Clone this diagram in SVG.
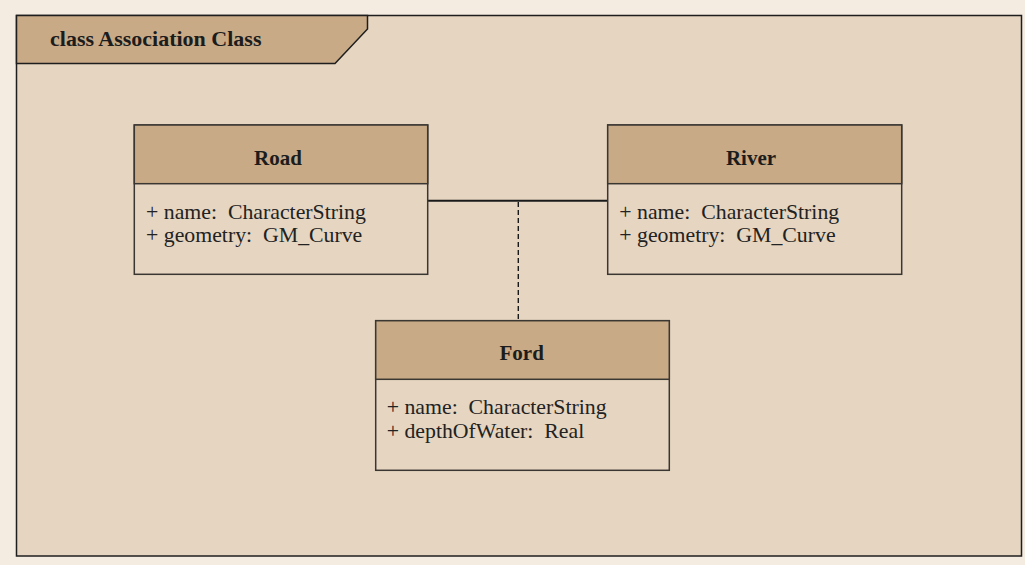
<svg xmlns="http://www.w3.org/2000/svg" width="1025" height="565" viewBox="0 0 1025 565">
  <style>
    .frame { fill: #e5d5c1; stroke: #1e1e1e; stroke-width: 1.5; }
    .tab { fill: #c8aa87; stroke: #1e1e1e; stroke-width: 1.5; }
    .box { fill: #e5d5c1; stroke: #3a3632; stroke-width: 1.5; }
    .head { fill: #c8aa87; stroke: #3a3632; stroke-width: 1.5; }
    .title { font-family: "Liberation Serif", "Times New Roman", serif; font-weight: bold; font-size: 22px; fill: #1c1c1c; }
    .name { font-family: "Liberation Serif", "Times New Roman", serif; font-weight: bold; font-size: 21px; fill: #1c1c1c; text-anchor: middle; }
    .attr { font-family: "Liberation Serif", "Times New Roman", serif; font-size: 21.8px; fill: #222; }
    .assoc { stroke: #1a1a1a; stroke-width: 2; fill: none; }
    .dash { stroke: #1a1a1a; stroke-width: 1.4; fill: none; stroke-dasharray: 5 3; }
  </style>

  <!-- page background -->
  <rect x="0" y="0" width="1025" height="565" fill="#f4ebe1"/>

  <!-- diagram frame with name tab -->
  <g id="frame">
    <rect class="frame" x="16.5" y="15.5" width="1005" height="540.5"/>
    <path class="tab" d="M16.5,15.5 H367.5 V29 L335,63.5 H16.5 Z"/>
    <text class="title" x="50" y="46">class Association Class</text>
  </g>

  <!-- connectors -->
  <g id="connectors">
    <line class="assoc" x1="427.7" y1="200.7" x2="607.7" y2="200.7"/>
    <line class="dash" x1="518.3" y1="202" x2="518.3" y2="320.7"/>
  </g>

  <!-- Road -->
  <g id="road">
    <rect class="box" x="134.3" y="125" width="293.4" height="149.3"/>
    <rect class="head" x="134.3" y="125" width="293.4" height="58.7"/>
    <text class="name" x="278" y="165">Road</text>
    <text class="attr" x="146" y="219.3" xml:space="preserve">+ name:  CharacterString</text>
    <text class="attr" x="146" y="241.7" xml:space="preserve">+ geometry:  GM_Curve</text>
  </g>

  <!-- River -->
  <g id="river">
    <rect class="box" x="607.7" y="125" width="294" height="149.3"/>
    <rect class="head" x="607.7" y="125" width="294" height="58.7"/>
    <text class="name" x="751" y="165">River</text>
    <text class="attr" x="619.3" y="219.3" xml:space="preserve">+ name:  CharacterString</text>
    <text class="attr" x="619.3" y="241.7" xml:space="preserve">+ geometry:  GM_Curve</text>
  </g>

  <!-- Ford (association class) -->
  <g id="ford">
    <rect class="box" x="375.7" y="320.7" width="293.6" height="149.6"/>
    <rect class="head" x="375.7" y="320.7" width="293.6" height="58.6"/>
    <text class="name" x="521.7" y="360">Ford</text>
    <text class="attr" x="386.7" y="414.3" xml:space="preserve">+ name:  CharacterString</text>
    <text class="attr" x="386.7" y="437.7" xml:space="preserve">+ depthOfWater:  Real</text>
  </g>
</svg>
